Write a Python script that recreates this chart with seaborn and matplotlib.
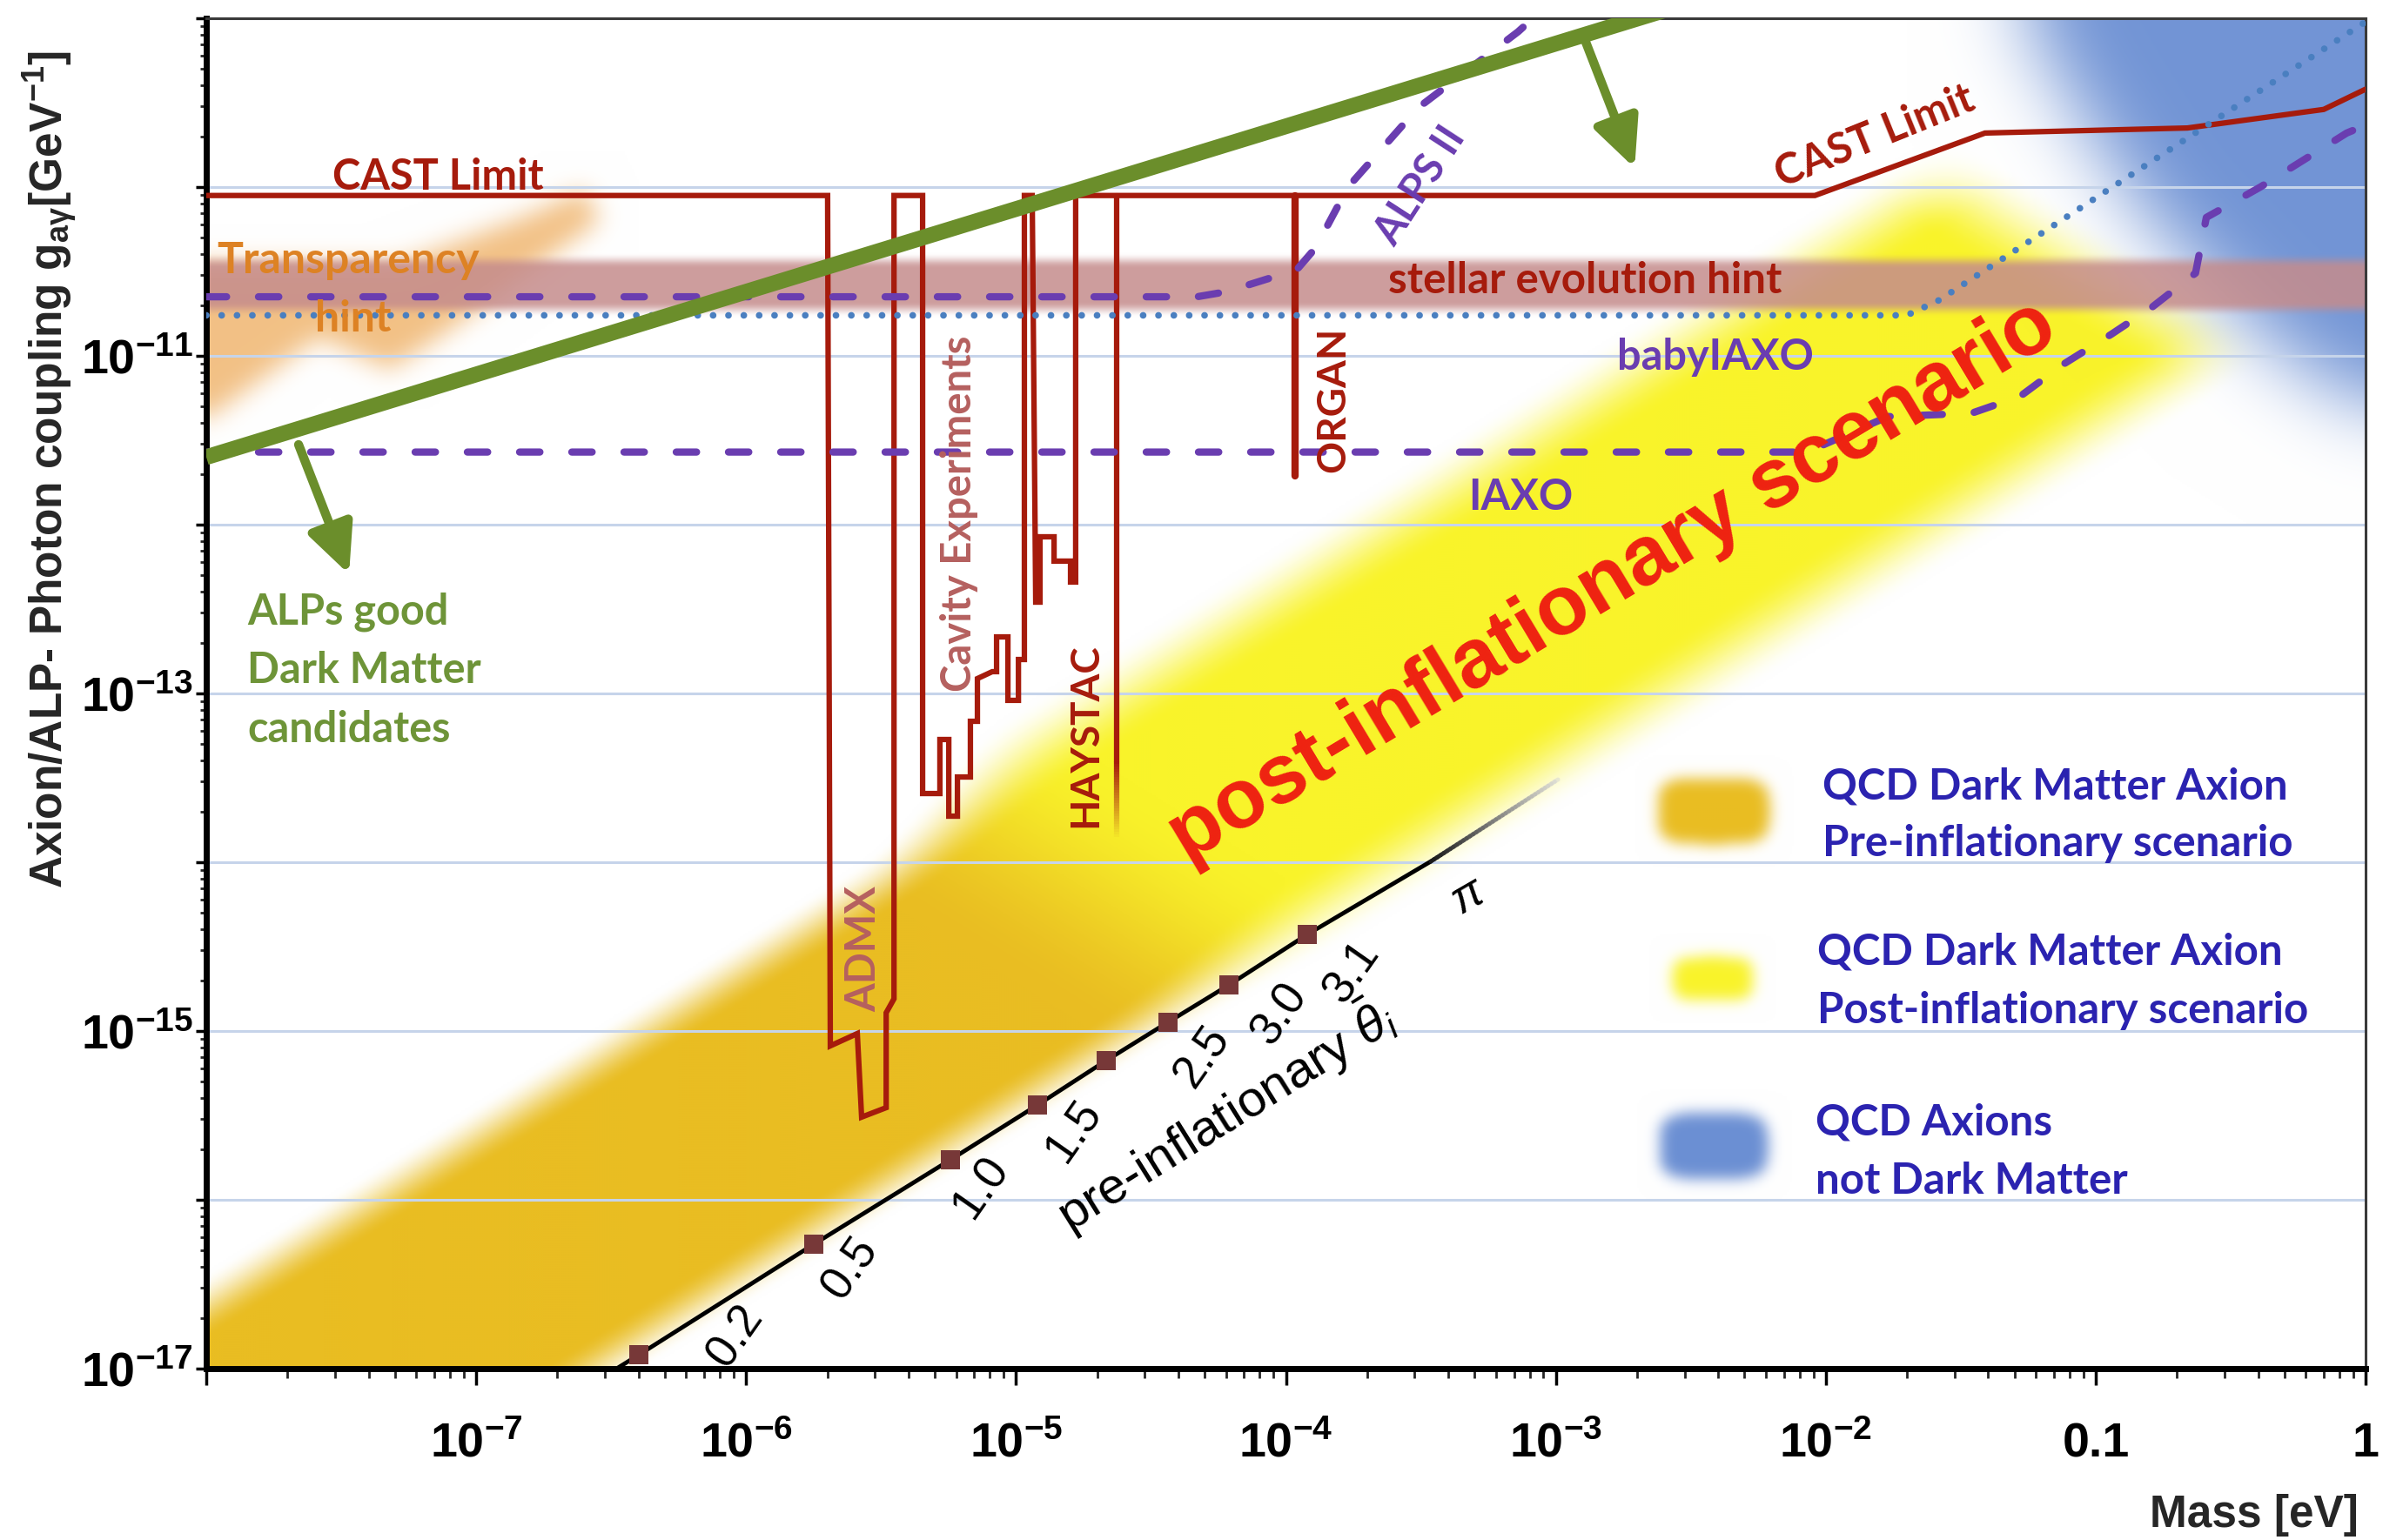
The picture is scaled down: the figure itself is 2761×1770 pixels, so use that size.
import numpy as np
import matplotlib
matplotlib.use("Agg")
import matplotlib.pyplot as plt
import matplotlib.ticker as mticker
from matplotlib.path import Path
from matplotlib.collections import LineCollection
from matplotlib import font_manager as fm
import seaborn as sns

# ============================ DATA  (log10 m/eV , log10 g/GeV^-1) ============================
# CAST limit together with the haloscope exclusion outline (ADMX, cavities)
cast_logm = [-8.000, -5.698, -5.688, -5.588, -5.572, -5.481, -5.481, -5.452, -5.452,
             -5.346, -5.346, -5.282, -5.282, -5.249, -5.249, -5.217, -5.217, -5.169,
             -5.169, -5.143, -5.143, -5.088, -5.072, -5.072, -5.030, -5.030, -4.991,
             -4.991, -4.969, -4.969, -4.940, -4.927, -4.911, -4.911, -4.859, -4.859,
             -4.798, -4.798, -4.779, -4.779, -2.040, -1.410, -0.660, -0.155, 0.000]
cast_logg = [-10.05, -10.05, -15.088, -15.015, -15.510, -15.454, -14.892, -14.809, -10.05,
             -10.05, -13.593, -13.593, -13.273, -13.273, -13.727, -13.727, -13.495, -13.495,
             -13.165, -13.165, -12.912, -12.871, -12.871, -12.665, -12.665, -13.041, -13.041,
             -12.799, -12.799, -10.05, -10.05, -12.459, -12.459, -12.072, -12.072, -12.216,
             -12.216, -12.340, -12.340, -10.05, -10.05, -9.68, -9.65, -9.54, -9.42]

haystac_logm = [-4.627, -4.627]
haystac_logg = [-10.05, -13.40]
haystac_fade_logg = [-13.40, -13.85]

organ_logm = [-3.966, -3.966]
organ_logg = [-10.05, -11.71]

alps2_logm = [-8.00, -4.33, -4.22, -3.96, -3.89, -3.77, -3.51, -3.14, -3.05]
alps2_logg = [-10.65, -10.65, -10.62, -10.49, -10.36, -10.00, -9.53, -9.08, -8.95]

iaxo_logm = [-8.00, -2.07, -1.77, -1.46, -1.28, -1.12, -0.94, -0.79, -0.63, -0.59, -0.39, -0.07, 0.02]
iaxo_logg = [-11.57, -11.57, -11.36, -11.34, -11.24, -11.05, -10.87, -10.71, -10.51, -10.18, -10.00, -9.68, -9.62]

babyiaxo_logm = [-8.00, -1.70, -1.58, 0.02]
babyiaxo_logg = [-10.76, -10.76, -10.67, -9.00]

alp_dm_logm = [-8.0, -2.0]
alp_dm_logg = [-11.60, -8.66]
arrow_start_logm = [-7.658, -2.902]
arrow_start_logg = [-11.526, -9.088]
arrow_tip_logm = [-7.471, -2.708]
arrow_tip_logg = [-12.294, -9.887]

theta_logm = [-6.53, -6.397, -5.749, -5.243, -4.920, -4.666, -4.437, -4.211, -3.921, -3.463]
theta_logg = [-17.05, -16.918, -16.263, -15.763, -15.438, -15.175, -14.948, -14.727, -14.428, -13.995]
theta_tail_logm = [-3.463, -2.992]
theta_tail_logg = [-13.995, -13.510]
theta_marker_logm = [-6.397, -5.749, -5.243, -4.920, -4.666, -4.437, -4.211, -3.921]
theta_marker_logg = [-16.918, -16.263, -15.763, -15.438, -15.175, -14.948, -14.727, -14.428]
theta_labels = ["0.2", "0.5", "1.0", "1.5", "2.5", "3.0", "3.1"]

# QCD dark-matter band (log g - log m offset, half width), pre/post transition and end
qcd_band_offset_pre = -9.53
qcd_band_offset_post = -9.40
qcd_band_halfwidth_pre = 0.90
qcd_band_halfwidth_post = 1.00
qcd_pre_post_transition = -18.9      # along log m + log g
qcd_post_end = -11.55

stellar_hint_logg = -10.58
stellar_hint_halfwidth = 0.10

transparency_logm = [-8.2, -7.987, -7.581, -7.320, -7.136, -6.542, -6.597, -6.820, -7.284, -7.987, -8.2]
transparency_logg = [-11.45, -11.361, -10.887, -11.082, -10.887, -10.196, -10.015, -10.175, -10.454, -10.454, -10.40]

qcd_not_dm_logm = [-1.30, 0.10, 0.10, -0.30, -0.80, -1.05]
qcd_not_dm_logg = [-8.90, -8.90, -11.40, -11.00, -10.20, -9.60]

# ============================ STYLE ============================
RED = "#a61b0c"
FADED_RED = "#b5605f"
PURPLE = "#6a3db0"
DOTBLUE = "#4a7fc0"
GREEN = "#6b8e2b"
GREEN_TXT = "#6e9438"
ORANGE_TXT = "#dd8224"
LEG_BLUE = "#2b23b0"
GOLD = (233, 189, 34)
YELLOW = (249, 243, 42)
BLUE = (107, 143, 211)
ROSE = (197, 140, 140)
ORANGE = (240, 182, 112)

sns.set_theme(style="ticks")
names = {f.name for f in fm.fontManager.ttflist}
NARROW = "Liberation Sans Narrow" if "Liberation Sans Narrow" in names else "Liberation Sans"
LAB = "Lato" if "Lato" in names else "DejaVu Sans"
plt.rcParams["font.family"] = [NARROW, "DejaVu Sans"]
plt.rcParams["mathtext.fontset"] = "custom"
plt.rcParams["mathtext.rm"] = "Liberation Sans"
plt.rcParams["mathtext.it"] = "Liberation Sans:italic"
plt.rcParams["mathtext.bf"] = "Liberation Sans:bold"

FIG_W, FIG_H = 2761, 1770
AX_L, AX_R, AX_T, AX_B = 237, 2718, 21, 1573
AXW, AXH = AX_R - AX_L, AX_B - AX_T
fig = plt.figure(figsize=(FIG_W / 100, FIG_H / 100), dpi=100)
fig.patch.set_facecolor("white")
pos = [AX_L / FIG_W, 1 - AX_B / FIG_H, AXW / FIG_W, AXH / FIG_H]
ax_bg = fig.add_axes(pos, zorder=0)
ax = fig.add_axes(pos, zorder=1)
ax.set_facecolor("none")

# ============================ BACKGROUND SHADING ============================
W, H = AXW // 2, AXH // 2
lx = -8 + (np.arange(W) + 0.5) * 8 / W
ly = -17 + (np.arange(H) + 0.5) * 8 / H
LX, LY = np.meshgrid(lx, ly)
SX = (LX + 8) / 8 * AXW          # screen px inside axes
SY = (LY + 17) / 8 * AXH


def smooth(t):
    t = np.clip(t, 0, 1)
    return t * t * (3 - 2 * t)


def blur(a, sig):
    r = int(3 * sig) + 1
    k = np.exp(-0.5 * (np.arange(-r, r + 1) / sig) ** 2)
    k /= k.sum()
    a = np.pad(a, r, mode="edge")
    a = np.apply_along_axis(np.convolve, 1, a, k, mode="valid")
    a = np.apply_along_axis(np.convolve, 0, a, k, mode="valid")
    return a


def poly_mask(lm, lg):
    p = Path(np.column_stack([lm, lg]))
    pts = np.column_stack([LX.ravel(), LY.ravel()])
    return p.contains_points(pts).reshape(LX.shape).astype(float)


img = np.ones((H, W, 3))


def over(col, a):
    global img
    c = np.asarray(col, float) / 255.0
    a = np.clip(a, 0, 1)[..., None]
    img = img * (1 - a) + c * a


# QCD band (pre -> post inflationary)
s = LX + LY
t = smooth((s - (qcd_pre_post_transition - 0.8)) / 1.6)
c0 = qcd_band_offset_pre * (1 - t) + qcd_band_offset_post * t
hw = qcd_band_halfwidth_pre * (1 - t) + qcd_band_halfwidth_post * t
ramp = 0.40 * (1 - t) + 0.60 * t
prof = smooth((hw - np.abs((LY - LX) - c0)) / ramp + 0.5)
end = 1 - smooth((s - (qcd_post_end - 0.35)) / 0.7)
band_col = (np.array(GOLD)[None, None, :] * (1 - t)[..., None] + np.array(YELLOW)[None, None, :] * t[..., None])
a = (prof * end)[..., None]
img = img * (1 - a) + band_col / 255.0 * a

# QCD axions, not dark matter
over(BLUE, 0.95 * blur(poly_mask(qcd_not_dm_logm, qcd_not_dm_logg), 22))
# transparency hint
over(ORANGE, 0.85 * blur(poly_mask(transparency_logm, transparency_logg), 7))
# stellar evolution hint
over(ROSE, 0.85 * (1 - smooth((np.abs(LY - stellar_hint_logg) - stellar_hint_halfwidth) / 0.09)))

# legend blobs (axes-fraction centres, half sizes in px)
for (fxc, fyc, bw, bh, col) in [(0.6981, 0.4130, 64, 38, GOLD),
                                 (0.6977, 0.2887, 46, 25, YELLOW),
                                 (0.6981, 0.1649, 62, 38, BLUE)]:
    m = (np.abs((SX - fxc * AXW) / bw) ** 4 + np.abs((SY - fyc * AXH) / bh) ** 4 <= 1).astype(float)
    over(col, blur(m, 4))

ax_bg.imshow(img, origin="lower", extent=(-8, 0, -17, -9), aspect="auto", interpolation="bilinear")
ax_bg.set_xlim(-8, 0)
ax_bg.set_ylim(-17, -9)
ax_bg.axis("off")

# ============================ LINES ============================
ax.set_xscale("log")
ax.set_yscale("log")


def P(v):
    return np.power(10.0, np.asarray(v, float))


def sline(lm, lg, **kw):
    sns.lineplot(x=P(lm), y=P(lg), ax=ax, sort=False, estimator=None, errorbar=None, legend=False, **kw)


sline(cast_logm, cast_logg, color=RED, lw=4.5, zorder=3, solid_joinstyle="miter")
sline(haystac_logm, haystac_logg, color=RED, lw=4.5, zorder=3)
fy_ = np.linspace(haystac_fade_logg[0], haystac_fade_logg[1], 30)
segs = [[(P(haystac_logm[0]), P(fy_[i])), (P(haystac_logm[0]), P(fy_[i + 1]))] for i in range(29)]
cols = [(0.65, 0.1, 0.05, 1 - i / 29) for i in range(29)]
ax.add_collection(LineCollection(segs, colors=cols, linewidths=4.5, zorder=3))
sline(organ_logm, organ_logg, color=RED, lw=6, zorder=3)

sline(alps2_logm, alps2_logg, color=PURPLE, lw=6, linestyle=(0, (2.8, 4.4)), dash_capstyle="round", zorder=4)
sline(iaxo_logm, iaxo_logg, color=PURPLE, lw=6, linestyle=(0, (2.8, 4.4)), dash_capstyle="round", zorder=4)
sline(babyiaxo_logm, babyiaxo_logg, color=DOTBLUE, lw=5.5, linestyle=(0, (0.01, 2.3)), dash_capstyle="round", zorder=4)

sline(alp_dm_logm, alp_dm_logg, color=GREEN, lw=13, zorder=5, solid_capstyle="butt")
for i in range(2):
    ax.annotate("", xy=(P(arrow_tip_logm[i]), P(arrow_tip_logg[i])),
                xytext=(P(arrow_start_logm[i]), P(arrow_start_logg[i])),
                arrowprops=dict(arrowstyle="-|>,head_length=3.4,head_width=1.6", mutation_scale=10,
                                lw=7.5, color=GREEN, shrinkA=0, shrinkB=0), zorder=5)

sline(theta_logm, theta_logg, color="black", lw=3.5, zorder=6)
tm = np.linspace(theta_tail_logm[0], theta_tail_logm[1], 40)
tg = np.linspace(theta_tail_logg[0], theta_tail_logg[1], 40)
segs = [[(P(tm[i]), P(tg[i])), (P(tm[i + 1]), P(tg[i + 1]))] for i in range(39)]
cols = [(0.1 + 0.75 * i / 39, 0.1 + 0.75 * i / 39, 0.1 + 0.75 * i / 39, 1 - 0.5 * i / 39) for i in range(39)]
ax.add_collection(LineCollection(segs, colors=cols, linewidths=3.5, zorder=6, capstyle="round"))
sns.scatterplot(x=P(theta_marker_logm), y=P(theta_marker_logg), marker="s", s=250, color="#773838",
                linewidth=0, ax=ax, zorder=7, legend=False)

# ============================ AXES ============================
ax.set_xlim(1e-8, 1)
ax.set_ylim(1e-17, 1e-9)
ax.set_xlabel("")
ax.set_ylabel("")
xt = [10.0 ** k for k in range(-8, 1)]
xl = [""] + [r"$\mathregular{10^{%d}}$" % k for k in range(-7, -1)] + ["0.1", "1"]
ax.xaxis.set_major_locator(mticker.FixedLocator(xt))
ax.xaxis.set_major_formatter(mticker.FixedFormatter(xl))
ax.xaxis.set_minor_locator(mticker.LogLocator(base=10, subs=np.arange(2, 10), numticks=100))
ax.xaxis.set_minor_formatter(mticker.NullFormatter())
yt = [10.0 ** k for k in range(-17, -8)]
yl = [r"$\mathregular{10^{%d}}$" % k if k in (-11, -13, -15, -17) else "" for k in range(-17, -8)]
ax.yaxis.set_major_locator(mticker.FixedLocator(yt))
ax.yaxis.set_major_formatter(mticker.FixedFormatter(yl))
ax.yaxis.set_minor_locator(mticker.LogLocator(base=10, subs=np.arange(2, 10), numticks=100))
ax.yaxis.set_minor_formatter(mticker.NullFormatter())
ax.tick_params(axis="x", which="major", direction="out", length=14, width=2.5, pad=30, labelsize=40,
               bottom=True, top=False, colors="black")
ax.tick_params(axis="x", which="minor", direction="out", length=8, width=2, bottom=True, top=False)
ax.tick_params(axis="y", which="major", direction="out", length=9, width=2.5, pad=2, labelsize=40,
               left=True, right=False, colors="black")
ax.tick_params(axis="y", which="minor", direction="out", length=5, width=2, left=True, right=False)
for lbl in ax.get_xticklabels() + ax.get_yticklabels():
    lbl.set_fontweight("bold")
ax.grid(False)
ax.yaxis.grid(True, which="major", color="#c6d4ea", lw=2.2)
ax.set_axisbelow(True)
for sp in ["left", "bottom"]:
    ax.spines[sp].set_linewidth(5)
    ax.spines[sp].set_color("black")
for sp in ["top", "right"]:
    ax.spines[sp].set_visible(True)
    ax.spines[sp].set_linewidth(2.2)
    ax.spines[sp].set_color("#3a3a3a")

fig.text(58 / FIG_W, 1 - 540 / FIG_H, "Axion/ALP- Photon coupling g$_{\\mathregular{a\u03b3}}$[GeV$^{\\mathregular{-1}}$]",
         rotation=90, ha="center", va="center", fontsize=37, fontweight="bold", family="Liberation Sans")
fig.text(2710 / FIG_W, 1 - 1741 / FIG_H, "Mass [eV]", ha="right", va="center", fontsize=37,
         fontweight="bold", family=NARROW)

# ============================ ANNOTATIONS ============================
T = ax.transAxes


def lab(x, y, s, **kw):
    kw.setdefault("family", LAB)
    kw.setdefault("fontweight", "bold")
    ax.text(x, y, s, transform=T, zorder=8, **kw)


lab(0.0584, 0.8731, "CAST Limit", color=RED, fontsize=35, ha="left", va="baseline")
lab(0.7727, 0.9124, "CAST Limit", color=RED, fontsize=35, ha="center", va="center", rotation=22,
    rotation_mode="anchor")
lab(0.0050, 0.8113, "Transparency", color=ORANGE_TXT, fontsize=36, ha="left", va="baseline")
lab(0.0504, 0.7681, "hint", color=ORANGE_TXT, fontsize=36, ha="left", va="baseline")
lab(0.5474, 0.7964, "stellar evolution hint", color=RED, fontsize=35.5, ha="left", va="baseline")
lab(0.6534, 0.7397, "babyIAXO", color=PURPLE, fontsize=35, ha="left", va="baseline")
lab(0.5844, 0.6360, "IAXO", color=PURPLE, fontsize=35, ha="left", va="baseline")
lab(0.5623, 0.8758, "ALPS II", color=PURPLE, fontsize=34, ha="center", va="center", rotation=57,
    rotation_mode="anchor")
lab(0.0189, 0.5515, "ALPs good", color=GREEN_TXT, fontsize=35, ha="left", va="baseline")
lab(0.0189, 0.5077, "Dark Matter", color=GREEN_TXT, fontsize=35, ha="left", va="baseline")
lab(0.0189, 0.4639, "candidates", color=GREEN_TXT, fontsize=35, ha="left", va="baseline")
lab(0.5219, 0.7178, "ORGAN", color=RED, fontsize=33, ha="center", va="center", rotation=90)
lab(0.4071, 0.4691, "HAYSTAC", color=RED, fontsize=33, ha="center", va="center", rotation=90)
lab(0.3487, 0.6334, "Cavity Experiments", color=FADED_RED, fontsize=34, ha="center", va="center", rotation=90)
lab(0.3043, 0.3106, "ADMX", color=FADED_RED, fontsize=34, ha="center", va="center", rotation=90)

lab(0.6513, 0.5825, "post-inflationary scenario", color="#ee2211", fontsize=69, ha="center", va="center",
    rotation=31, rotation_mode="anchor", family="Liberation Sans")

lab(0.7485, 0.4220, "QCD Dark Matter Axion", color=LEG_BLUE, fontsize=35.5, ha="left", va="baseline")
lab(0.7485, 0.3795, "Pre-inflationary scenario", color=LEG_BLUE, fontsize=35.5, ha="left", va="baseline")
lab(0.7461, 0.2990, "QCD Dark Matter Axion", color=LEG_BLUE, fontsize=35.5, ha="left", va="baseline")
lab(0.7461, 0.2558, "Post-inflationary scenario", color=LEG_BLUE, fontsize=35.5, ha="left", va="baseline")
lab(0.7453, 0.1727, "QCD Axions", color=LEG_BLUE, fontsize=35.5, ha="left", va="baseline")
lab(0.7453, 0.1295, "not Dark Matter", color=LEG_BLUE, fontsize=35.5, ha="left", va="baseline")

theta_label_pos = [(0.2451, 0.0238), (0.2983, 0.0741), (0.3587, 0.1340), (0.4015, 0.1759),
                   (0.4615, 0.2307), (0.4970, 0.2622), (0.5304, 0.2932)]
for (x, y), s_ in zip(theta_label_pos, theta_labels):
    ax.text(x, y, s_, transform=T, fontsize=38, family="Liberation Sans", color="black", rotation=55,
            ha="center", va="center", rotation_mode="anchor", zorder=8)
ax.text(0.5844, 0.3499, r"$\pi$", transform=T, fontsize=38, color="black", rotation=30,
        ha="center", va="center", zorder=8)
ax.text(0.4720, 0.1880, r"pre-inflationary $\bar{\theta}_i$", transform=T, fontsize=42,
        family="Liberation Sans", color="black", rotation=32, ha="center", va="center",
        rotation_mode="anchor", zorder=8)

fig.savefig("out.png", dpi=100, facecolor="white")
